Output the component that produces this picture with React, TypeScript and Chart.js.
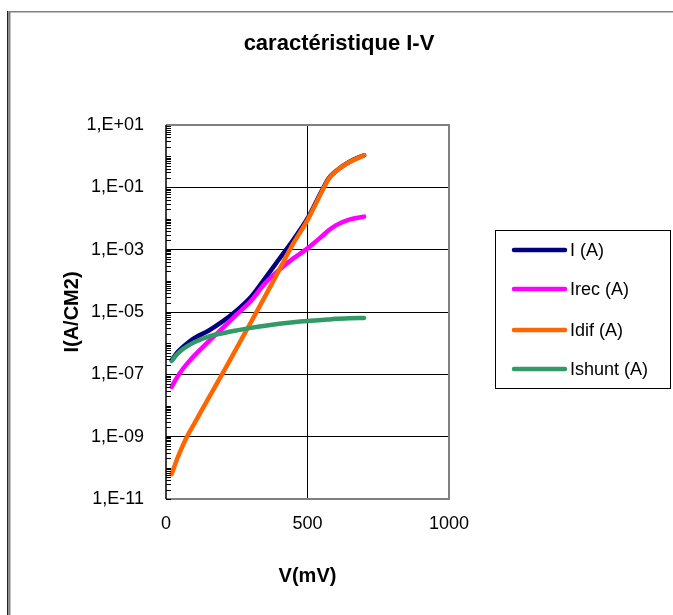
import React, { useEffect, useRef } from "react";
import { Chart, registerables } from "chart.js";

Chart.register(...registerables);

const voltages = [20, 40, 60, 80, 100, 150, 200, 250, 300, 350, 400, 450, 500, 550, 575, 600, 650, 700];
const currentI = [2.82e-7, 5.01e-7, 7.59e-7, 1.07e-6, 1.45e-6, 2.51e-6, 5.01e-6, 1.12e-5, 3.02e-5, 1.2e-4, 5.01e-4, 2.09e-3, 1.0e-2, 7.59e-2, 0.195, 0.331, 0.676, 1.07];
const currentIrec = [3.98e-8, 8.32e-8, 1.51e-7, 2.51e-7, 3.98e-7, 1.12e-6, 3.02e-6, 8.32e-6, 2.24e-5, 8.32e-5, 2.24e-4, 5.25e-4, 1.1e-3, 2.63e-3, 4.17e-3, 6.03e-3, 9.33e-3, 1.15e-2];
const currentIdif = [6.31e-11, 2.0e-10, 5.37e-10, 1.26e-9, 2.63e-9, 1.7e-8, 1.07e-7, 7.08e-7, 4.68e-6, 3.16e-5, 2.24e-4, 1.58e-3, 8.91e-3, 7.08e-2, 0.186, 0.324, 0.661, 1.07];
const currentIshunt = [2.69e-7, 4.47e-7, 6.46e-7, 8.51e-7, 1.07e-6, 1.62e-6, 2.09e-6, 2.57e-6, 3.09e-6, 3.63e-6, 4.17e-6, 4.68e-6, 5.13e-6, 5.5e-6, 5.75e-6, 6.03e-6, 6.31e-6, 6.46e-6];

const seriesLabels = ["I (A)", "Irec (A)", "Idif (A)", "Ishunt (A)"];
const seriesColors = ["#000080", "#FF00FF", "#FF6600", "#339966"];
const yMajorExponents = [-11, -9, -7, -5, -3, -1, 1];
const xTickValues = [0, 500, 1000];
const chartTitle = "caractéristique I-V";

const FONT = "'Liberation Sans', Arial, sans-serif";

function fmtSci(v: number): string {
  const e = Math.round(Math.log10(v));
  const sign = e < 0 ? "-" : "+";
  return "1,E" + sign + String(Math.abs(e)).padStart(2, "0");
}

const decorPlugin = {
  id: "decor",
  afterDraw(chart: any) {
    const ctx = chart.ctx;
    const { left, right, top, bottom } = chart.chartArea;
    const y = chart.scales.y;
    ctx.save();
    // title
    ctx.fillStyle = "#000000";
    ctx.font = "bold 22px " + FONT;
    ctx.textAlign = "center";
    ctx.textBaseline = "middle";
    ctx.fillText(chartTitle, 339, 44);
    // plot border
    ctx.strokeStyle = "#808080";
    ctx.lineWidth = 2;
    ctx.beginPath();
    ctx.moveTo(left, top);
    ctx.lineTo(right, top);
    ctx.lineTo(right, bottom);
    ctx.lineTo(left, bottom);
    ctx.stroke();
    // left axis
    ctx.strokeStyle = "#000000";
    ctx.lineWidth = 1.5;
    ctx.beginPath();
    ctx.moveTo(left, top);
    ctx.lineTo(left, bottom);
    ctx.stroke();
    // minor ticks
    ctx.lineWidth = 1;
    for (let e = -11; e <= 0; e++) {
      for (let m = 1; m <= 9; m++) {
        const py = Math.round(y.getPixelForValue(m * Math.pow(10, e))) + 0.5;
        ctx.beginPath();
        ctx.moveTo(left, py);
        ctx.lineTo(left + 5, py);
        ctx.stroke();
      }
    }
    // outer frame
    ctx.fillStyle = "#222222";
    ctx.fillRect(7, 11, 1.5, chart.height - 11);
    ctx.fillStyle = "#808080";
    ctx.fillRect(9, 11, chart.width - 9, 1.5);
    ctx.fillRect(9, 11, 1.5, chart.height - 11);
    // legend
    const lx = 495, ly = 230, lw = 175, lh = 158;
    ctx.fillStyle = "#ffffff";
    ctx.fillRect(lx, ly, lw, lh);
    ctx.strokeStyle = "#000000";
    ctx.lineWidth = 1;
    ctx.strokeRect(lx + 0.5, ly + 0.5, lw, lh);
    const rows = [250, 289, 330, 369];
    ctx.font = "18px " + FONT;
    ctx.textBaseline = "middle";
    ctx.textAlign = "left";
    chart.data.datasets.forEach((ds: any, i: number) => {
      ctx.strokeStyle = ds.borderColor;
      ctx.lineWidth = 4.5;
      ctx.lineCap = "round";
      ctx.beginPath();
      ctx.moveTo(514, rows[i]);
      ctx.lineTo(565, rows[i]);
      ctx.stroke();
      ctx.fillStyle = "#000000";
      ctx.fillText(ds.label, 570, rows[i] + 1);
    });
    ctx.restore();
  },
};

export default function App() {
  const canvasRef = useRef<HTMLCanvasElement | null>(null);

  useEffect(() => {
    if (!canvasRef.current) return;
    Chart.defaults.font.family = FONT;
    const seriesData = [currentI, currentIrec, currentIdif, currentIshunt];
    const datasets = seriesData.map((arr, i) => ({
      label: seriesLabels[i],
      data: voltages.map((v, k) => ({ x: v, y: arr[k] })),
      borderColor: seriesColors[i],
      backgroundColor: seriesColors[i],
      borderWidth: 4.5,
      pointRadius: 0,
      tension: 0.4,
      cubicInterpolationMode: "monotone" as const,
      borderCapStyle: "round" as const,
      borderJoinStyle: "round" as const,
      order: 3 - i,
    }));
    const chart = new Chart(canvasRef.current, {
      type: "line",
      data: { datasets },
      options: {
        responsive: false,
        animation: false,
        devicePixelRatio: 1,
        layout: { padding: { left: 0, top: 125, right: 224, bottom: 0 } },
        plugins: {
          legend: { display: false },
          tooltip: { enabled: false },
          title: { display: false },
        },
        scales: {
          x: {
            type: "linear",
            min: 0,
            max: 1000,
            afterBuildTicks: (s: any) => {
              s.ticks = xTickValues.map((v) => ({ value: v }));
            },
            afterFit: (s: any) => {
              s.height = 116;
            },
            ticks: {
              color: "#000000",
              font: { size: 18, family: FONT },
              padding: 14,
              maxRotation: 0,
              callback: (v: any) => String(v),
            },
            grid: {
              drawTicks: false,
              color: (c: any) => (c.tick && c.tick.value === 500 ? "#000000" : "rgba(0,0,0,0)"),
              lineWidth: 1,
            },
            border: { display: false },
            title: {
              display: true,
              text: "V(mV)",
              color: "#000000",
              font: { size: 20, weight: "bold", family: FONT },
              padding: { top: 0, bottom: 27 },
            },
          },
          y: {
            type: "logarithmic",
            min: 1e-11,
            max: 10,
            afterBuildTicks: (s: any) => {
              s.ticks = yMajorExponents.map((e) => ({ value: Math.pow(10, e) }));
            },
            afterFit: (s: any) => {
              s.width = 166;
            },
            ticks: {
              color: "#000000",
              font: { size: 18, family: FONT },
              padding: 22,
              callback: (v: any) => fmtSci(Number(v)),
            },
            grid: {
              drawTicks: false,
              color: (c: any) => {
                if (!c.tick) return "rgba(0,0,0,0)";
                const e = Math.round(Math.log10(c.tick.value));
                return e === -11 || e === 1 ? "rgba(0,0,0,0)" : "#000000";
              },
              lineWidth: 1,
            },
            border: { display: false },
            title: {
              display: true,
              text: "I(A/CM2)",
              color: "#000000",
              font: { size: 20, weight: "bold", family: FONT },
              padding: { top: 60, bottom: 0 },
            },
          },
        },
      },
      plugins: [decorPlugin],
    });
    return () => chart.destroy();
  }, []);

  return (
    <div style={{ position: "fixed", left: 0, top: 0, width: 673, height: 615, background: "#ffffff" }}>
      <canvas ref={canvasRef} width={673} height={615} style={{ display: "block" }} />
    </div>
  );
}
